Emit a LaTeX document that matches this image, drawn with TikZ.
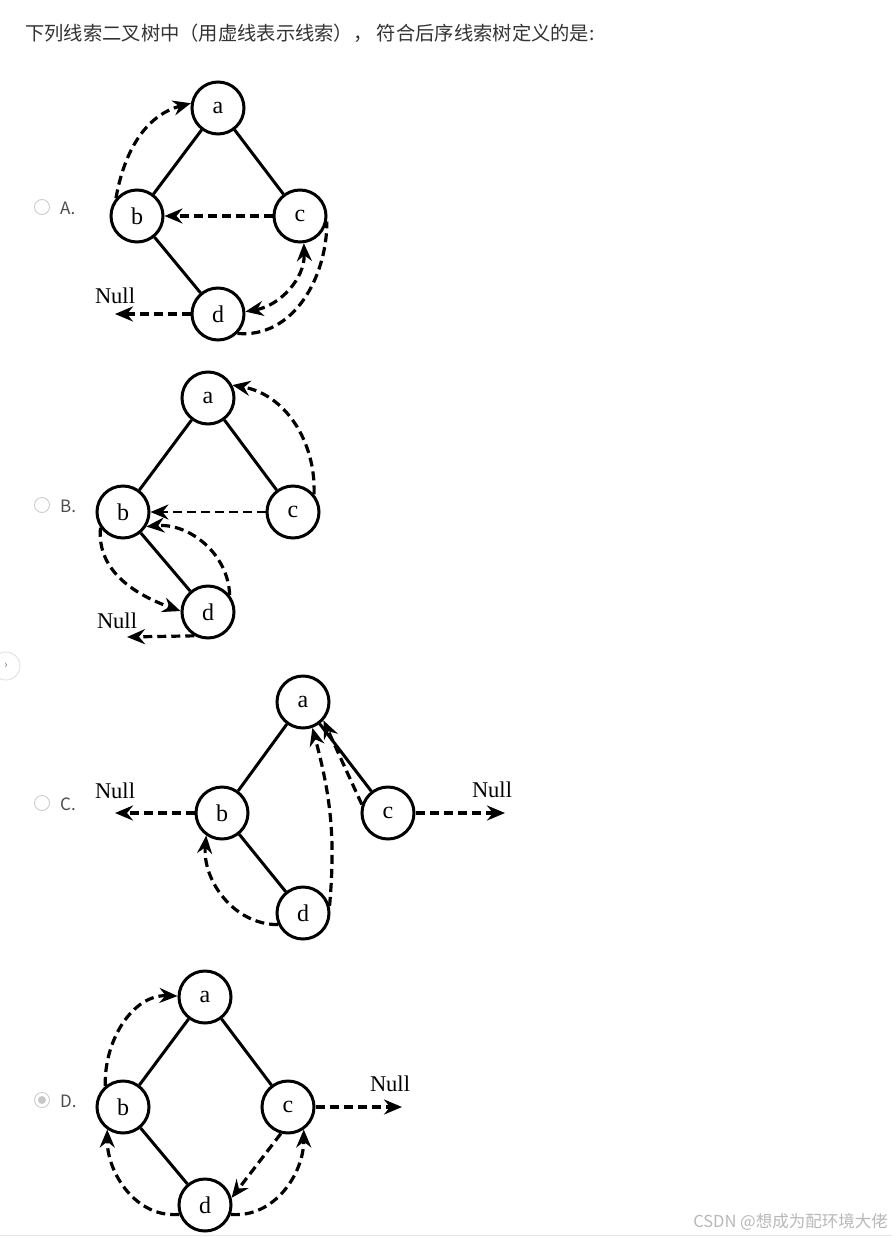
\documentclass[tikz,border=0pt]{standalone}
\usepackage{fontspec}
\setmainfont{Liberation Serif}
\newfontfamily\cjk{Noto Sans CJK SC}
\usetikzlibrary{arrows.meta}
\tikzset{
  tn/.style={circle, draw, line width=3pt, minimum size=52pt, inner sep=0pt, fill=white,
    font=\fontsize{24}{24}\selectfont},
  edge/.style={line width=3pt},
  tip/.tip={Stealth[length=18pt,width=15pt,inset=6pt]},
  thr/.style={line width=3.2pt, dash pattern=on 9pt off 5pt, -tip},
  thrboth/.style={line width=3.2pt, dash pattern=on 9pt off 5pt, tip-tip},
  thrplain/.style={line width=3.2pt, dash pattern=on 9pt off 5pt},
  nulltxt/.style={font=\fontsize{22.5}{22.5}\selectfont, inner sep=0pt},
  radio/.style={circle, draw=black!20, line width=0.9pt, minimum size=15pt, inner sep=0pt, fill=white},
  optlbl/.style={font=\cjk\fontsize{17}{17}\selectfont, text=black!70, anchor=west, inner sep=0pt},
}
\begin{document}
\begin{tikzpicture}[x=1pt,y=-1pt]
\useasboundingbox (0,0) rectangle (892,1237);
\fill[white] (0,0) rectangle (892,1237);
% title
\node[anchor=west, inner sep=0pt, font=\cjk\fontsize{19.3}{19.3}\selectfont, text=black!80] (title) at (25,33) {下列线索二叉树中（用虚线表示线索）， 符合后序线索树定义的是:};
% side handle
\node[circle, draw=black!12, line width=0.9pt, minimum size=28pt, inner sep=0pt, font=\cjk\fontsize{11}{11}\selectfont, text=black!55] (handle) at (6,666) {›};
% watermark
\node[anchor=east, inner sep=0pt, font=\cjk\fontsize{16.5}{16.5}\selectfont, text=black!28] (wm) at (888,1222) {CSDN @想成为配环境大佬};
\draw[black!10, line width=1pt] (0,1235.5) -- (892,1235.5);

% ---------- A ----------
\node[radio] (rA) at (42,207) {};
\node[optlbl] (lA) at (60,208) {A.};
\node[tn] (aA) at (218,108) {a};
\node[tn] (bA) at (137,216) {b};
\node[tn] (cA) at (300,216) {c};
\node[tn] (dA) at (218,314) {d};
\draw[edge] (aA) -- (bA);
\draw[edge] (aA) -- (cA);
\draw[edge] (bA) -- (dA);
\draw[thr] (bA.140) to[out=80,in=195] (aA.170);
\draw[thr] (cA.west) -- (bA.east);
\coordinate (nA) at (115,314);
\node[nulltxt] (tA) at (115,296) {Null};
\draw[thr] (dA.west) -- (nA);
\draw[thrplain] (dA.-45) to[out=-5,in=-90] (cA.-12);
\draw[thrboth] (dA.5) to[out=10,in=-88] (cA.-82);

% ---------- B ----------
\node[radio] (rB) at (42,505) {};
\node[optlbl] (lB) at (60,506) {B.};
\node[tn] (aB) at (208,398) {a};
\node[tn] (bB) at (123,512) {b};
\node[tn] (cB) at (293,512) {c};
\node[tn] (dB) at (208,612) {d};
\draw[edge] (aB) -- (bB);
\draw[edge] (aB) -- (cB);
\draw[edge] (bB) -- (dB);
\draw[thr] (cB.40) to[out=88,in=-10] (aB.28);
\draw[thr, line width=2.6pt] (cB.west) -- (bB.east);
\draw[thr] (dB.38) to[out=92,in=5] (bB.-32);
\draw[thr] (bB.215) to[out=-95,in=160] (dB.178);
\coordinate (nB) at (127,637);
\node[nulltxt] (tB) at (117,621) {Null};
\draw[thr] (dB.240) -- (nB);

% ---------- C ----------
\node[radio] (rC) at (42,803) {};
\node[optlbl] (lC) at (60,804) {C.};
\node[tn] (aC) at (303,702) {a};
\node[tn] (bC) at (222,813) {b};
\node[tn] (cC) at (388,813) {c};
\node[tn] (dC) at (303,913) {d};
\draw[edge] (aC) -- (bC);
\draw[edge] (aC) -- (cC);
\draw[edge] (bC) -- (dC);
\coordinate (nCl) at (115,813);
\coordinate (nCr) at (505,813);
\node[nulltxt] (tCl) at (115,791) {Null};
\node[nulltxt] (tCr) at (492,790) {Null};
\draw[thr] (bC.west) -- (nCl);
\draw[thr] (cC.east) -- (nCr);
\draw[thr] (dC.205) to[out=180,in=-95] (bC.235);
\draw[thr] (dC.15) to[out=85,in=-75] (aC.-70);
\draw[thr] (cC.162) -- (aC.-42);

% ---------- D ----------
\node[radio] (rD) at (42,1100) {};
\node[circle, fill=black!22, minimum size=8pt, inner sep=0pt] (rDdot) at (rD) {};
\node[optlbl] (lD) at (60,1101) {D.};
\node[tn] (aD) at (205,997) {a};
\node[tn] (bD) at (123,1107) {b};
\node[tn] (cD) at (288,1107) {c};
\node[tn] (dD) at (205,1205) {d};
\draw[edge] (aD) -- (bD);
\draw[edge] (aD) -- (cD);
\draw[edge] (bD) -- (dD);
\draw[thr] (bD.130) to[out=92,in=178] (aD.178);
\coordinate (nD) at (402,1107);
\node[nulltxt] (tD) at (390,1084) {Null};
\draw[thr] (cD.east) -- (nD);
\draw[thr] (cD.-105) -- (dD.15);
\draw[thr] (dD.-20) to[out=-5,in=-90] (cD.-55);
\draw[thr] (dD.200) to[out=185,in=-90] (bD.-125);
\end{tikzpicture}
\end{document}
